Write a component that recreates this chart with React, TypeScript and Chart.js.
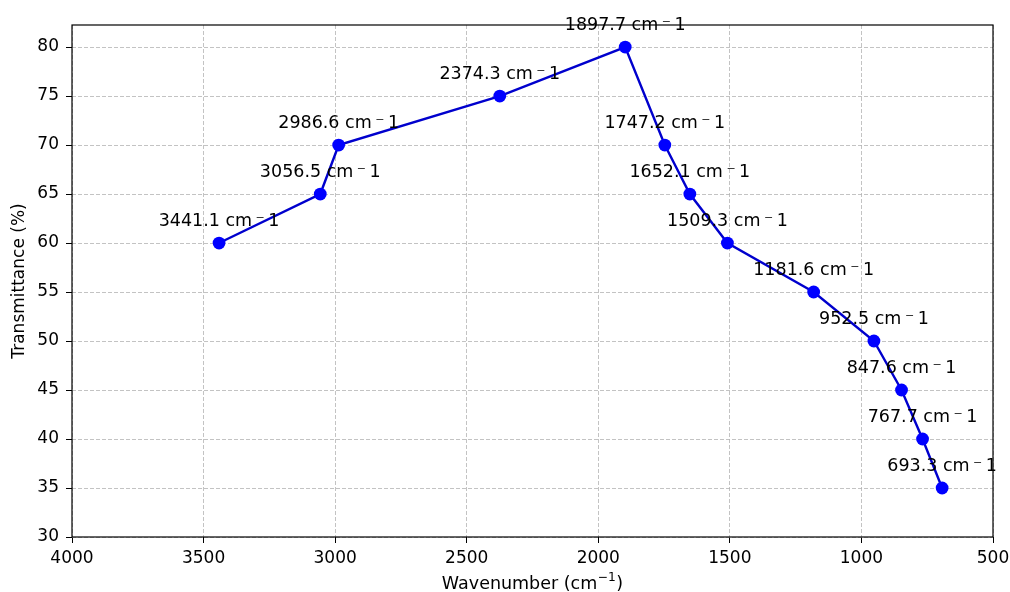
import React, { useEffect, useRef } from "react";
import { Chart, registerables } from "chart.js";

Chart.register(...registerables);

// Peak positions (cm⁻¹) and transmittance (%)
const wavenumbers = [3441.1, 3056.5, 2986.6, 2374.3, 1897.7, 1747.2, 1652.1, 1509.3, 1181.6, 952.5, 847.6, 767.7, 693.3];
const transmittance = [60, 65, 70, 75, 80, 70, 65, 60, 55, 50, 45, 40, 35];

const xTicks = [4000, 3500, 3000, 2500, 2000, 1500, 1000, 500];
const yTicks = [30, 35, 40, 45, 50, 55, 60, 65, 70, 75, 80];

const xTitleMain = "Wavenumber (cm";
const xTitleSup = "\u22121";
const xTitleEnd = ")";

const FONT = "'DejaVu Sans', 'Liberation Sans', sans-serif";

// Frame around the plot area, per-point wavenumber annotations and the x-axis title
const framePlugin = {
  id: "frameAndLabels",
  afterDatasetsDraw(chart: any) {
    const { ctx, chartArea } = chart;
    ctx.save();
    ctx.strokeStyle = "#000000";
    ctx.lineWidth = 1.2;
    ctx.setLineDash([]);
    ctx.strokeRect(chartArea.left, chartArea.top, chartArea.right - chartArea.left, chartArea.bottom - chartArea.top);

    const meta = chart.getDatasetMeta(0);
    ctx.fillStyle = "#000000";
    ctx.font = `17.5px ${FONT}`;
    ctx.textAlign = "center";
    ctx.textBaseline = "alphabetic";
    meta.data.forEach((pt: any, i: number) => {
      const text = `${wavenumbers[i].toFixed(1)} cm\u2009\u207B\u20091`;
      ctx.fillText(text, pt.x, pt.y - 17);
    });

    // x-axis title with a raised, smaller exponent
    const mainFont = `17.5px ${FONT}`;
    const supFont = `12.25px ${FONT}`;
    ctx.textAlign = "left";
    ctx.font = mainFont;
    const wMain = ctx.measureText(xTitleMain).width;
    const wEnd = ctx.measureText(xTitleEnd).width;
    ctx.font = supFont;
    const wSup = ctx.measureText(xTitleSup).width + 1;
    const total = wMain + wSup + wEnd;
    const cx = (chartArea.left + chartArea.right) / 2;
    const baseY = 588.5;
    let x = cx - total / 2;
    ctx.font = mainFont;
    ctx.fillText(xTitleMain, x, baseY);
    x += wMain;
    ctx.font = supFont;
    ctx.fillText(xTitleSup, x + 0.5, baseY - 8);
    x += wSup;
    ctx.font = mainFont;
    ctx.fillText(xTitleEnd, x, baseY);
    ctx.restore();
  },
};

export default function App() {
  const canvasRef = useRef<HTMLCanvasElement | null>(null);

  useEffect(() => {
    if (!canvasRef.current) return;
    const chart = new Chart(canvasRef.current, {
      type: "line",
      data: {
        datasets: [
          {
            data: wavenumbers.map((w, i) => ({ x: w, y: transmittance[i] })),
            borderColor: "#0000cd",
            borderWidth: 2.4,
            backgroundColor: "#0000ff",
            pointBackgroundColor: "#0000ff",
            pointBorderColor: "#0000ff",
            pointRadius: 6.4,
            pointBorderWidth: 0,
            tension: 0,
            fill: false,
          },
        ],
      },
      options: {
        animation: false,
        responsive: false,
        devicePixelRatio: 1,
        parsing: false as any,
        layout: { padding: { top: 25, right: 17, left: 0, bottom: 0 } },
        plugins: {
          legend: { display: false },
          tooltip: { enabled: false },
        },
        scales: {
          x: {
            type: "linear",
            reverse: true,
            min: 500,
            max: 4000,
            afterBuildTicks: (scale: any) => {
              scale.ticks = xTicks.map((v) => ({ value: v }));
            },
            afterFit: (scale: any) => {
              scale.height = 55;
              scale.paddingLeft = 0;
              scale.paddingRight = 0;
            },
            ticks: {
              font: { family: FONT, size: 17 },
              color: "#000000",
              padding: 5,
              maxRotation: 0,
              autoSkip: false,
              callback: (v: any) => String(v),
            },
            grid: {
              color: "#b4b4b4",
              lineWidth: 0.8,
              tickColor: "#000000",
              tickLength: 6,
              tickWidth: 1,
              tickBorderDash: [],
            },
            border: { display: false, dash: [4, 2] },
            title: { display: false },
          },
          y: {
            type: "linear",
            min: 30,
            max: 82.25,
            afterBuildTicks: (scale: any) => {
              scale.ticks = yTicks.map((v) => ({ value: v }));
            },
            afterFit: (scale: any) => {
              scale.width = 72;
            },
            ticks: {
              font: { family: FONT, size: 17 },
              color: "#000000",
              padding: 7,
              autoSkip: false,
              callback: (v: any) => String(v),
            },
            grid: {
              color: "#b4b4b4",
              lineWidth: 0.8,
              tickColor: "#000000",
              tickLength: 6,
              tickWidth: 1,
              tickBorderDash: [],
            },
            border: { display: false, dash: [4, 2] },
            title: {
              display: true,
              text: "Transmittance (%)",
              font: { family: FONT, size: 17, lineHeight: 1 },
              color: "#000000",
              padding: { top: 11.5, bottom: 0 },
            },
          },
        },
      },
      plugins: [framePlugin],
    });
    return () => chart.destroy();
  }, []);

  return (
    <div style={{ position: "absolute", left: 0, top: 0, width: 1010, height: 592, background: "#ffffff" }}>
      <canvas ref={canvasRef} width={1010} height={592} />
    </div>
  );
}
